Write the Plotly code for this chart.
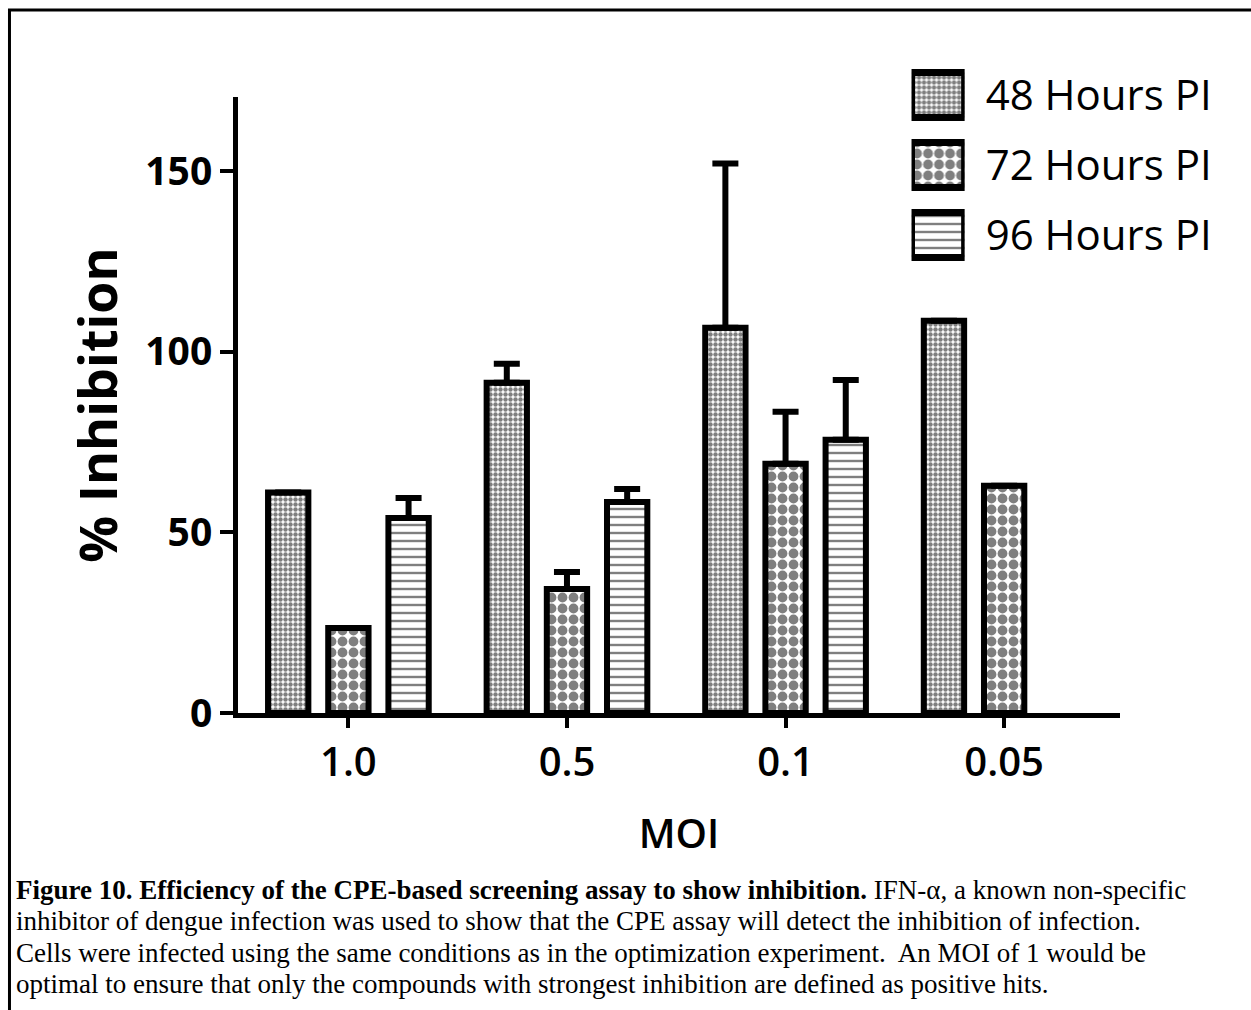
import plotly.graph_objects as go

categories = ["1.0", "0.5", "0.1", "0.05"]
series_names = ["48 Hours PI", "72 Hours PI", "96 Hours PI"]
vals_48 = [61, 91.4, 106.6, 108.6]
err_48 = [0, 5.3, 45.5, 0]
vals_72 = [23.5, 34.3, 69, 62.9]
err_72 = [0, 4.7, 14.4, 0]
vals_96 = [54, 58.4, 75.6, None]
err_96 = [5.5, 3.6, 16.6, 0]
y_ticks = [0, 50, 100, 150]

caption_lines = [
    "<b>Figure 10. Efficiency of the CPE-based screening assay to show inhibition.</b> IFN-α, a known non-specific",
    "inhibitor of dengue infection was used to show that the CPE assay will detect the inhibition of infection.",
    "Cells were infected using the same conditions as in the optimization experiment.  An MOI of 1 would be",
    "optimal to ensure that only the compounds with strongest inhibition are defined as positive hits.",
]

patterns = [
    dict(shape=".", size=5, solidity=0.62, fgcolor="black", bgcolor="white"),
    dict(shape=".", size=11, solidity=0.62, fgcolor="black", bgcolor="white"),
    dict(shape="-", size=8, solidity=0.3, fgcolor="black", bgcolor="white"),
]

fig = go.Figure()
for name, vals, errs, pat in zip(series_names, [vals_48, vals_72, vals_96], [err_48, err_72, err_96], patterns):
    fig.add_trace(go.Bar(
        x=categories, y=vals, name=name, showlegend=False,
        marker=dict(color="white", line=dict(color="black", width=6), pattern=pat),
        error_y=dict(type="data", array=errs, arrayminus=[0] * len(errs), symmetric=False,
                     color="black", thickness=6, width=13),
    ))
    # legend swatch on a secondary axis
    fig.add_trace(go.Bar(
        x=[1], y=[name], orientation="h", showlegend=False, xaxis="x2", yaxis="y2",
        marker=dict(color="white", line=dict(color="black", width=7), pattern=pat),
        hoverinfo="skip",
    ))

FONT = "Open Sans"
plot_top = 50
plot_bottom = 713
H = plot_bottom - plot_top

def py(px):
    return (plot_bottom - px) / H

fig.update_layout(
    width=1251, height=1010,
    margin=dict(l=238, r=131, t=plot_top, b=1010 - plot_bottom),
    paper_bgcolor="white", plot_bgcolor="white",
    barmode="group", bargap=0.174, bargroupgap=0.33,
    font=dict(family=FONT, color="black"),
    xaxis=dict(
        type="category", categoryorder="array", categoryarray=categories,
        range=[-0.505, 3.53], showline=True, linecolor="black", linewidth=5,
        ticks="outside", ticklen=10, tickwidth=4, tickcolor="black",
        tickfont=dict(size=40, family=FONT, weight=600), showgrid=False, zeroline=False,
        title=dict(text="MOI", font=dict(size=40, family=FONT, weight=600), standoff=34),
    ),
    yaxis=dict(
        domain=[0, py(97)], range=[0, 170.5], tickvals=y_ticks,
        showline=True, linecolor="black", linewidth=5,
        ticks="outside", ticklen=13, tickwidth=4, tickcolor="black",
        tickfont=dict(size=39, family=FONT, weight="bold"), showgrid=False, zeroline=False,
        title=dict(text="% Inhibition", font=dict(size=52, family=FONT, weight="bold"), standoff=13),
    ),
    xaxis2=dict(domain=[(910 - 238) / 880, (963 - 238) / 880], range=[0, 1],
                visible=False, anchor="y2"),
    yaxis2=dict(domain=[py(270), py(60)], type="category", categoryorder="array",
                categoryarray=series_names, autorange="reversed", anchor="x2", side="right",
                showline=False, showgrid=False, zeroline=False, ticks="",
                ticklabelstandoff=20, tickfont=dict(size=42, family=FONT)),
)
fig.update_traces(width=0.64, selector=dict(yaxis="y2"))

# figure frame
fig.add_shape(type="rect", xref="paper", yref="paper",
              x0=(10 - 238) / 880, x1=(1262 - 238) / 880,
              y0=py(1020), y1=py(10),
              line=dict(color="black", width=3), fillcolor="rgba(0,0,0,0)", layer="below")

for i, line in enumerate(caption_lines):
    fig.add_annotation(
        text=line, xref="paper", yref="paper",
        x=(15 - 238) / 880, y=py(890 + i * 31.3), xanchor="left", yanchor="middle",
        showarrow=False, font=dict(family="Liberation Serif", size=27, color="black"), align="left",
    )

fig.write_html("out.html")
